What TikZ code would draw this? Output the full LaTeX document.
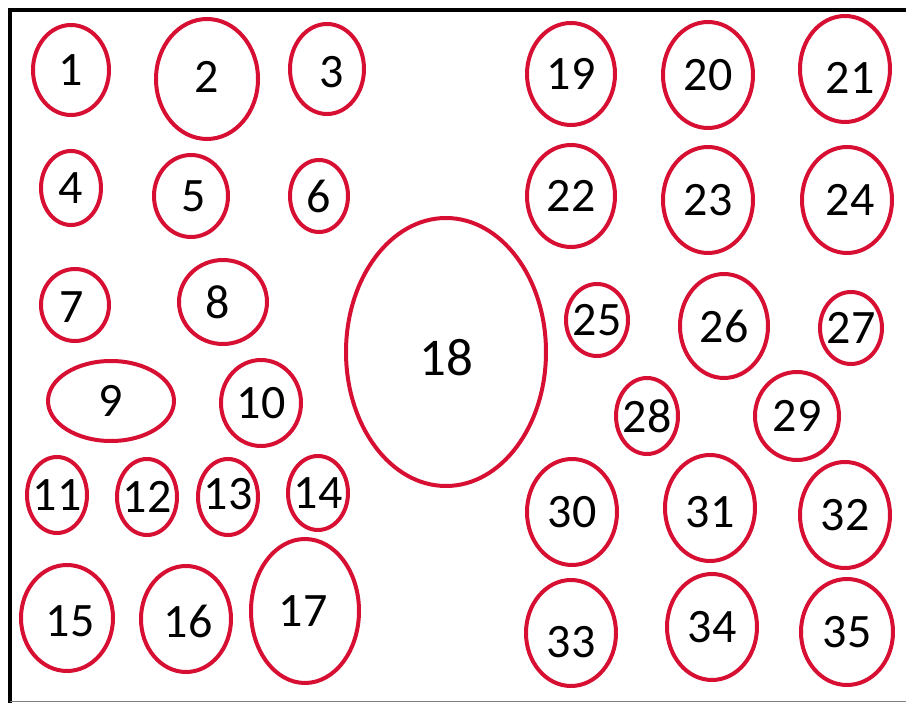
\documentclass[tikz,border=0pt]{standalone}
\usepackage{fontspec}
\setmainfont{Carlito}
\usetikzlibrary{shapes.geometric}
\definecolor{ovalred}{RGB}{215,15,50}

\begin{document}
\begin{tikzpicture}[
        x=1pt, y=-1pt,
        oval/.style={draw=ovalred, ellipse, line width=4pt, inner sep=0pt},
        every label/.style={font=\fontsize{48}{56}\selectfont, inner sep=0pt}
    ]
        \useasboundingbox (0,0) rectangle (906,703);

        % Frame
        \draw[line width=4.5pt] (906,10) -- (10,10) -- (10,703);
        \draw[gray, line width=1pt] (10,701.5) -- (906,701.5);

        % Left block
        \node[oval, minimum width=76, minimum height=90, label={center:1}] (n1) at (71,70) {};
        \node[oval, minimum width=102, minimum height=120, label={[yshift=2]center:2}] (n2) at (207,79) {};
        \node[oval, minimum width=74, minimum height=90, label={[xshift=5,yshift=-3]center:3}] (n3) at (327,69) {};
        \node[oval, minimum width=60, minimum height=74, label={center:4}] (n4) at (71,188) {};
        \node[oval, minimum width=74, minimum height=82, label={[xshift=3]center:5}] (n5) at (191,196) {};
        \node[oval, minimum width=58, minimum height=72, label={center:6}] (n6) at (319,196) {};
        \node[oval, minimum width=68, minimum height=72, label={[xshift=-3,yshift=-2]center:7}] (n7) at (75,305) {};
        \node[oval, minimum width=88, minimum height=84, label={[xshift=-5]center:8}] (n8) at (223,302) {};
        \node[oval, minimum width=126, minimum height=80, label={center:9}] (n9) at (111,401) {};
        \node[oval, minimum width=80, minimum height=86, label={center:10}] (n10) at (261,403) {};
        \node[oval, minimum width=60, minimum height=76, label={center:11}] (n11) at (57,495) {};
        \node[oval, minimum width=60, minimum height=76, label={center:12}] (n12) at (147,497) {};
        \node[oval, minimum width=60, minimum height=76, label={[yshift=3]center:13}] (n13) at (228,497) {};
        \node[oval, minimum width=60, minimum height=74, label={center:14}] (n14) at (318,493) {};
        \node[oval, minimum width=92, minimum height=106, label={[xshift=3,yshift=-3]center:15}] (n15) at (67,618) {};
        \node[oval, minimum width=90, minimum height=106, label={[xshift=2,yshift=-2]center:16}] (n16) at (186,619) {};
        \node[oval, minimum width=108, minimum height=144, label={[xshift=-2]center:17}] (n17) at (305,611) {};

        % Centre
        \node[oval, minimum width=200, minimum height=268, label={[yshift=-6, font=\fontsize{53}{60}\selectfont]center:18}] (n18) at (446,352) {};

        % Right block
        \node[oval, minimum width=88, minimum height=102, label={center:19}] (n19) at (571,74) {};
        \node[oval, minimum width=90, minimum height=106, label={center:20}] (n20) at (708,75) {};
        \node[oval, minimum width=90, minimum height=106, label={[xshift=5,yshift=-9]center:21}] (n21) at (845,69) {};
        \node[oval, minimum width=88, minimum height=102, label={center:22}] (n22) at (571,196) {};
        \node[oval, minimum width=90, minimum height=106, label={center:23}] (n23) at (708,200) {};
        \node[oval, minimum width=90, minimum height=106, label={[xshift=3]center:24}] (n24) at (847,200) {};
        \node[oval, minimum width=62, minimum height=72, label={center:25}] (n25) at (597,320) {};
        \node[oval, minimum width=88, minimum height=104, label={center:26}] (n26) at (724,326) {};
        \node[oval, minimum width=62, minimum height=72, label={center:27}] (n27) at (851,328) {};
        \node[oval, minimum width=62, minimum height=76, label={center:28}] (n28) at (647,416) {};
        \node[oval, minimum width=84, minimum height=88, label={center:29}] (n29) at (797,416) {};
        \node[oval, minimum width=90, minimum height=106, label={center:30}] (n30) at (572,512) {};
        \node[oval, minimum width=90, minimum height=106, label={[yshift=-4]center:31}] (n31) at (710,508) {};
        \node[oval, minimum width=90, minimum height=106, label={center:32}] (n32) at (845,515) {};
        \node[oval, minimum width=90, minimum height=106, label={[yshift=-9]center:33}] (n33) at (571,633) {};
        \node[oval, minimum width=90, minimum height=106, label={center:34}] (n34) at (712,627) {};
        \node[oval, minimum width=92, minimum height=106, label={center:35}] (n35) at (847,632) {};

    \end{tikzpicture}
\end{document}
